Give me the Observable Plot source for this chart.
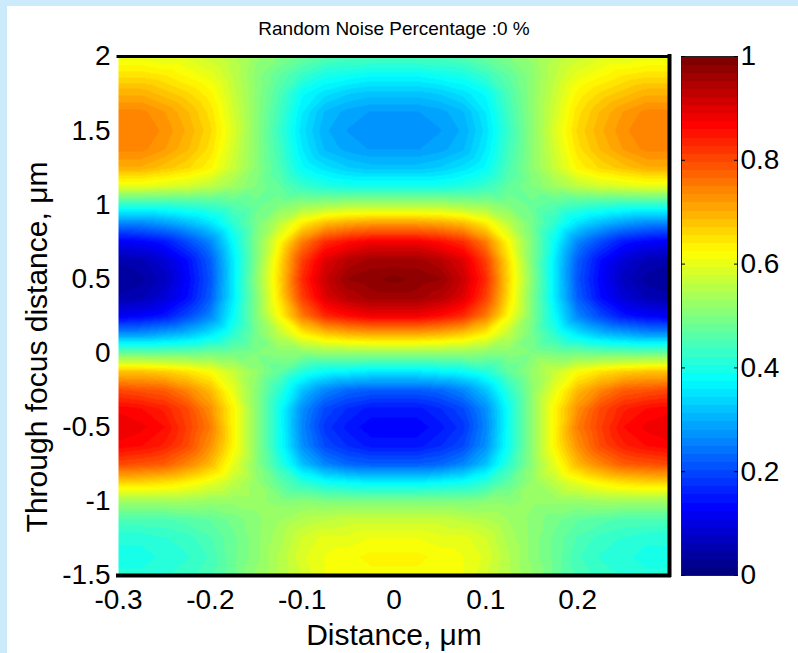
<!DOCTYPE html>
<html><head><meta charset="utf-8">
<script src="https://cdn.jsdelivr.net/npm/d3@7"></script>
<script src="https://cdn.jsdelivr.net/npm/@observablehq/plot@0.6"></script>
<style>
html,body{margin:0;padding:0;}
body{width:798px;height:653px;background:#cbebfd;position:relative;overflow:hidden;font-family:"Liberation Sans",Arial,sans-serif;}
#paper{position:absolute;left:7px;top:6px;width:791px;height:647px;background:#fff;}
#main,#bar{position:absolute;top:0;}
#main{left:0}
#bar{left:675px}
</style></head><body>
<div id="paper"></div>
<div id="main"></div><div id="bar"></div>
<script>
const title = "Random Noise Percentage :0 %";
const xLabel = "Distance, μm";
const yLabel = "Through focus distance, μm";
const xDomain = [-0.3, 0.3];
const yDomain = [-1.5, 2];
const colorDomain = [0, 1];
const xTicks = [-0.3, -0.2, -0.1, 0, 0.1, 0.2];
const yTicks = [-1.5, -1, -0.5, 0, 0.5, 1, 1.5, 2];
const cbTicks = [0, 0.2, 0.4, 0.6, 0.8, 1];

// sample positions (µm)
const xs = [-0.3,-0.275,-0.25,-0.225,-0.2,-0.175,-0.15,-0.125,-0.1,-0.075,-0.05,-0.025,0,0.025,0.05,0.075,0.1,0.125,0.15,0.175,0.2,0.225,0.25,0.275,0.3];
const ys = [2,1.875,1.75,1.625,1.5,1.375,1.25,1.125,1,0.875,0.75,0.625,0.5,0.375,0.25,0.125,0,-0.125,-0.25,-0.375,-0.5,-0.625,-0.75,-0.875,-1,-1.125,-1.25,-1.375,-1.5];
// normalised intensity, one row per ys value, one column per xs value
const intensity = [
  [0.60,0.60,0.59,0.59,0.57,0.55,0.52,0.50,0.48,0.46,0.45,0.45,0.45,0.45,0.45,0.46,0.48,0.50,0.52,0.55,0.57,0.59,0.59,0.60,0.60],
  [0.65,0.65,0.64,0.62,0.60,0.56,0.51,0.47,0.43,0.40,0.39,0.38,0.38,0.38,0.39,0.40,0.43,0.47,0.51,0.56,0.60,0.62,0.64,0.65,0.65],
  [0.70,0.70,0.68,0.66,0.63,0.57,0.51,0.45,0.38,0.35,0.33,0.32,0.32,0.32,0.33,0.35,0.38,0.45,0.51,0.57,0.63,0.66,0.68,0.70,0.70],
  [0.74,0.74,0.72,0.69,0.65,0.58,0.51,0.44,0.36,0.31,0.29,0.28,0.28,0.28,0.29,0.31,0.36,0.44,0.51,0.58,0.65,0.69,0.72,0.74,0.74],
  [0.75,0.75,0.73,0.70,0.66,0.59,0.51,0.43,0.35,0.30,0.28,0.27,0.27,0.27,0.28,0.30,0.35,0.43,0.51,0.59,0.66,0.70,0.73,0.75,0.75],
  [0.74,0.74,0.72,0.69,0.65,0.58,0.51,0.44,0.36,0.31,0.29,0.28,0.28,0.28,0.29,0.31,0.36,0.44,0.51,0.58,0.65,0.69,0.72,0.74,0.74],
  [0.70,0.70,0.68,0.66,0.63,0.57,0.51,0.45,0.38,0.35,0.33,0.32,0.32,0.32,0.33,0.35,0.38,0.45,0.51,0.57,0.63,0.66,0.68,0.70,0.70],
  [0.60,0.60,0.59,0.58,0.56,0.53,0.50,0.47,0.43,0.41,0.40,0.40,0.40,0.40,0.40,0.41,0.43,0.47,0.50,0.53,0.56,0.58,0.59,0.60,0.60],
  [0.42,0.42,0.42,0.43,0.44,0.46,0.48,0.50,0.52,0.53,0.54,0.54,0.54,0.54,0.54,0.53,0.52,0.50,0.48,0.46,0.44,0.43,0.42,0.42,0.42],
  [0.26,0.26,0.28,0.31,0.35,0.42,0.49,0.56,0.64,0.69,0.71,0.72,0.72,0.72,0.71,0.69,0.64,0.56,0.49,0.42,0.35,0.31,0.28,0.26,0.26],
  [0.12,0.13,0.15,0.20,0.26,0.38,0.50,0.62,0.75,0.83,0.86,0.88,0.88,0.88,0.86,0.83,0.75,0.62,0.50,0.38,0.26,0.20,0.15,0.13,0.12],
  [0.05,0.06,0.09,0.14,0.22,0.36,0.50,0.65,0.81,0.90,0.94,0.96,0.96,0.96,0.94,0.90,0.81,0.65,0.50,0.36,0.22,0.14,0.09,0.06,0.05],
  [0.03,0.04,0.07,0.13,0.21,0.36,0.51,0.66,0.83,0.92,0.97,0.98,0.99,0.98,0.97,0.92,0.83,0.66,0.51,0.36,0.21,0.13,0.07,0.04,0.03],
  [0.05,0.06,0.09,0.14,0.22,0.36,0.50,0.65,0.81,0.90,0.94,0.96,0.96,0.96,0.94,0.90,0.81,0.65,0.50,0.36,0.22,0.14,0.09,0.06,0.05],
  [0.12,0.13,0.15,0.20,0.26,0.38,0.50,0.62,0.75,0.83,0.86,0.88,0.88,0.88,0.86,0.83,0.75,0.62,0.50,0.38,0.26,0.20,0.15,0.13,0.12],
  [0.28,0.28,0.30,0.32,0.36,0.42,0.49,0.56,0.63,0.67,0.69,0.70,0.70,0.70,0.69,0.67,0.63,0.56,0.49,0.42,0.36,0.32,0.30,0.28,0.28],
  [0.48,0.48,0.48,0.48,0.49,0.49,0.50,0.51,0.51,0.52,0.52,0.52,0.52,0.52,0.52,0.52,0.51,0.51,0.50,0.49,0.49,0.48,0.48,0.48,0.48],
  [0.68,0.68,0.67,0.65,0.62,0.57,0.52,0.47,0.41,0.38,0.37,0.36,0.36,0.36,0.37,0.38,0.41,0.47,0.52,0.57,0.62,0.65,0.67,0.68,0.68],
  [0.80,0.79,0.78,0.74,0.69,0.60,0.51,0.42,0.32,0.26,0.23,0.22,0.22,0.22,0.23,0.26,0.32,0.42,0.51,0.60,0.69,0.74,0.78,0.79,0.80],
  [0.87,0.86,0.84,0.80,0.73,0.63,0.51,0.39,0.27,0.20,0.17,0.15,0.15,0.15,0.17,0.20,0.27,0.39,0.51,0.63,0.73,0.80,0.84,0.86,0.87],
  [0.89,0.88,0.86,0.81,0.75,0.63,0.51,0.39,0.26,0.18,0.15,0.13,0.13,0.13,0.15,0.18,0.26,0.39,0.51,0.63,0.75,0.81,0.86,0.88,0.89],
  [0.87,0.86,0.84,0.80,0.73,0.63,0.51,0.39,0.27,0.20,0.17,0.15,0.15,0.15,0.17,0.20,0.27,0.39,0.51,0.63,0.73,0.80,0.84,0.86,0.87],
  [0.80,0.79,0.78,0.74,0.69,0.60,0.51,0.42,0.32,0.26,0.23,0.22,0.22,0.22,0.23,0.26,0.32,0.42,0.51,0.60,0.69,0.74,0.78,0.79,0.80],
  [0.66,0.66,0.65,0.63,0.60,0.56,0.52,0.47,0.42,0.39,0.38,0.37,0.37,0.37,0.38,0.39,0.42,0.47,0.52,0.56,0.60,0.63,0.65,0.66,0.66],
  [0.53,0.53,0.53,0.53,0.52,0.52,0.52,0.51,0.51,0.50,0.50,0.50,0.50,0.50,0.50,0.50,0.51,0.51,0.52,0.52,0.52,0.53,0.53,0.53,0.53],
  [0.45,0.45,0.45,0.46,0.47,0.49,0.51,0.53,0.55,0.56,0.57,0.57,0.57,0.57,0.57,0.56,0.55,0.53,0.51,0.49,0.47,0.46,0.45,0.45,0.45],
  [0.41,0.41,0.42,0.43,0.45,0.48,0.51,0.54,0.58,0.60,0.60,0.61,0.61,0.61,0.60,0.60,0.58,0.54,0.51,0.48,0.45,0.43,0.42,0.41,0.41],
  [0.40,0.40,0.41,0.42,0.44,0.48,0.51,0.55,0.59,0.61,0.62,0.63,0.63,0.63,0.62,0.61,0.59,0.55,0.51,0.48,0.44,0.42,0.41,0.40,0.40],
  [0.41,0.41,0.42,0.43,0.45,0.48,0.52,0.55,0.58,0.61,0.61,0.62,0.62,0.62,0.61,0.61,0.58,0.55,0.52,0.48,0.45,0.43,0.42,0.41,0.41]
];

const points = ys.flatMap((y, j) => xs.map((x, i) => ({x, y, v: intensity[j][i]})));

// MATLAB "jet" colormap with 64 levels
function jet(t) {
  const k = Math.max(0, Math.min(63, Math.floor(t * 64)));
  const s = k / 63;
  const c = v => Math.round(255 * Math.max(0, Math.min(1, v)));
  return `rgb(${c(1.5 - Math.abs(4 * s - 3))},${c(1.5 - Math.abs(4 * s - 2))},${c(1.5 - Math.abs(4 * s - 1))})`;
}
const colorScale = {type: "linear", domain: colorDomain, interpolate: jet, clamp: true};
const font = "Liberation Sans, Arial, Helvetica, sans-serif";
const fmt = d => String(d);

const main = Plot.plot({
  width: 675, height: 653,
  marginLeft: 118, marginRight: 6, marginTop: 56, marginBottom: 78,
  style: {background: "transparent", fontFamily: font, color: "black", overflow: "visible"},
  x: {domain: xDomain},
  y: {domain: yDomain},
  color: colorScale,
  marks: [
    Plot.raster(points, {x: "x", y: "y", fill: "v", interpolate: "barycentric"}),
    Plot.ruleY([yDomain[1]], {stroke: "black", strokeWidth: 3, strokeLinecap: "square"}),
    Plot.ruleY([yDomain[0]], {stroke: "black", strokeWidth: 4, strokeLinecap: "square"}),
    Plot.ruleX([xDomain[1]], {stroke: "black", strokeWidth: 4, strokeLinecap: "square"}),
    Plot.axisX(xTicks, {tickSize: 0, tickPadding: 14, fontSize: 28, tickFormat: fmt, label: null}),
    Plot.axisY(yTicks, {tickSize: 0, tickPadding: 8, fontSize: 28, tickFormat: fmt, label: null}),
    Plot.text([xLabel], {frameAnchor: "bottom", dy: 60, lineAnchor: "middle", fontSize: 30, text: d => d}),
    Plot.text([yLabel], {frameAnchor: "left", dx: -81, dy: 31, rotate: -90, textAnchor: "middle", lineAnchor: "middle", fontSize: 30, text: d => d}),
    Plot.text([title], {frameAnchor: "top", dy: -28, lineAnchor: "middle", fontSize: 19, text: d => d})
  ]
});
document.getElementById("main").appendChild(main);

const bar = Plot.plot({
  width: 123, height: 653,
  marginLeft: 6, marginRight: 61, marginTop: 56, marginBottom: 78,
  style: {background: "transparent", fontFamily: font, color: "black", overflow: "visible"},
  x: {domain: colorDomain, axis: null},
  y: {domain: colorDomain},
  color: colorScale,
  marks: [
    Plot.raster({fill: (x, y) => y, x1: colorDomain[0], x2: colorDomain[1], y1: colorDomain[0], y2: colorDomain[1], width: 1, height: 64, imageRendering: "pixelated"}),
    Plot.frame({stroke: "#222", strokeWidth: 1}),
    Plot.axisY(cbTicks, {anchor: "left", tickSize: -4, text: null, label: null}),
    Plot.axisY(cbTicks, {anchor: "right", tickSize: -4, text: null, label: null}),
    Plot.axisY(cbTicks, {anchor: "right", tickSize: 0, tickPadding: 3, fontSize: 28, tickFormat: fmt, label: null})
  ]
});
document.getElementById("bar").appendChild(bar);
</script></body></html>
